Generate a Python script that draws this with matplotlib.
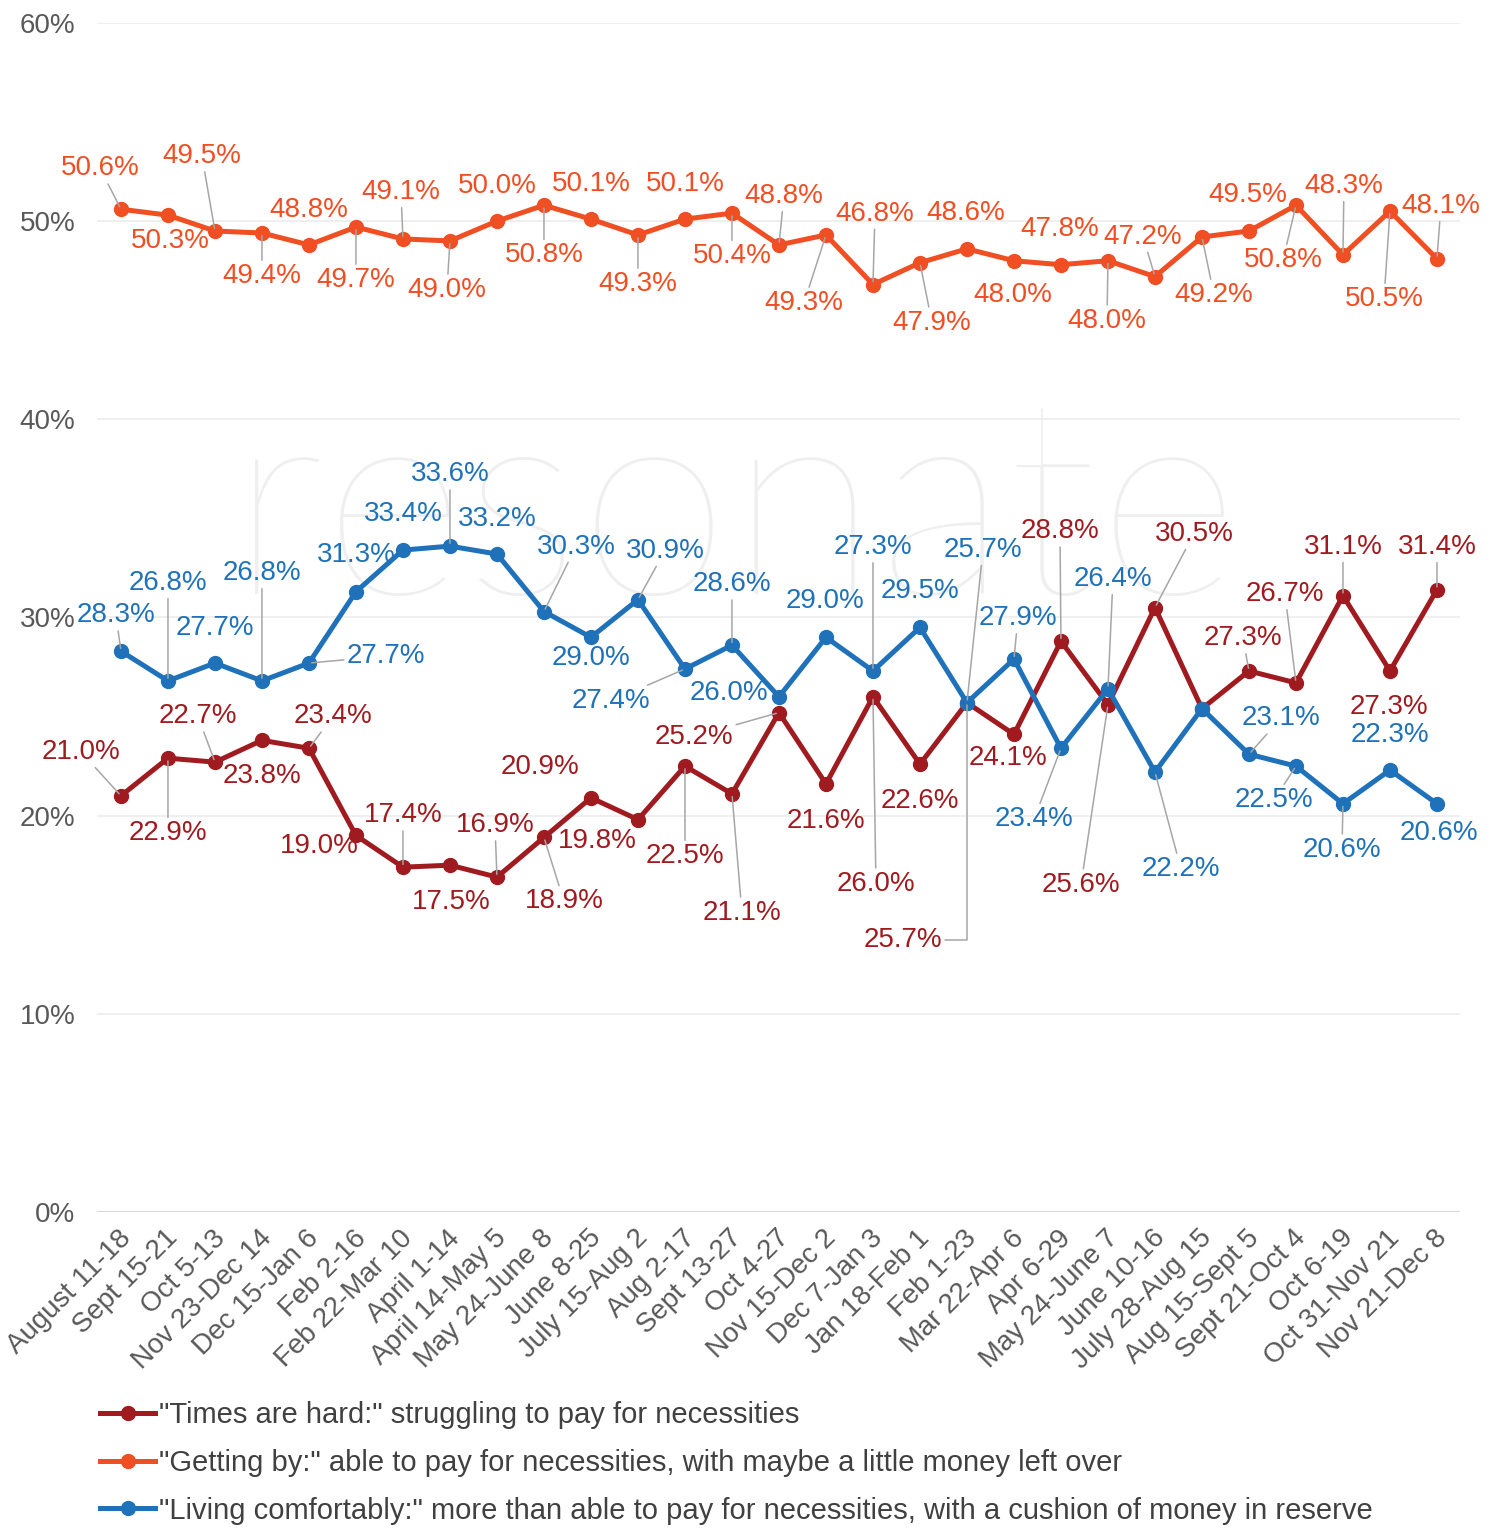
import matplotlib.pyplot as plt
from matplotlib.lines import Line2D
from matplotlib.transforms import ScaledTranslation

plt.rcParams['font.family'] = ['Liberation Sans', 'DejaVu Sans']

periods = ["August 11-18", "Sept 15-21", "Oct 5-13", "Nov 23-Dec 14", "Dec 15-Jan 6",
           "Feb 2-16", "Feb 22-Mar 10", "April 1-14", "April 14-May 5", "May 24-June 8",
           "June 8-25", "July 15-Aug 2", "Aug 2-17", "Sept 13-27", "Oct 4-27",
           "Nov 15-Dec 2", "Dec 7-Jan 3", "Jan 18-Feb 1", "Feb 1-23", "Mar 22-Apr 6",
           "Apr 6-29", "May 24-June 7", "June 10-16", "July 28-Aug 15", "Aug 15-Sept 5",
           "Sept 21-Oct 4", "Oct 6-19", "Oct 31-Nov 21", "Nov 21-Dec 8"]

times_hard = [21.0, 22.9, 22.7, 23.8, 23.4, 19.0, 17.4, 17.5, 16.9, 18.9,
              20.9, 19.8, 22.5, 21.1, 25.2, 21.6, 26.0, 22.6, 25.7, 24.1,
              28.8, 25.6, 30.5, 25.4, 27.3, 26.7, 31.1, 27.3, 31.4]
getting_by = [50.6, 50.3, 49.5, 49.4, 48.8, 49.7, 49.1, 49.0, 50.0, 50.8,
              50.1, 49.3, 50.1, 50.4, 48.8, 49.3, 46.8, 47.9, 48.6, 48.0,
              47.8, 48.0, 47.2, 49.2, 49.5, 50.8, 48.3, 50.5, 48.1]
comfortable = [28.3, 26.8, 27.7, 26.8, 27.7, 31.3, 33.4, 33.6, 33.2, 30.3,
               29.0, 30.9, 27.4, 28.6, 26.0, 29.0, 27.3, 29.5, 25.7, 27.9,
               23.4, 26.4, 22.2, 25.4, 23.1, 22.5, 20.6, 22.3, 20.6]

series_names = ['"Times are hard:" struggling to pay for necessities',
                '"Getting by:" able to pay for necessities, with maybe a little money left over',
                '"Living comfortably:" more than able to pay for necessities, with a cushion of money in reserve']

RED = '#A01B20'
ORANGE = '#F04E23'
BLUE = '#1F72B9'

# label placement: (dx, dy) offset in pixels from the point, leader line flag
hard_lbl = [(-40, 44, 1), (0, -75, 1), (-17, 46, 1), (0, -36, 0), (24, 32, 1),
            (-37, -11, 0), (0, 52, 1), (1, -37, 0), (-2, 52, 1), (20, -64, 1),
            (-51, 31, 0), (-41, -21, 0), (0, -90, 1), (10, -119, 1), (-85, -24, 1),
            (0, -37, 0), (3, -187, 1), (0, -37, 0), (-64, -237, 2), (-6, -24, 0),
            (-1, 110, 1), (-27, -180, 1), (39, 74, 1), None, (-6, 33, 1),
            (-11, 89, 1), (0, 49, 1), (-1, -36, 0), (0, 43, 1)]
getby_lbl = [(-21, 41, 1), (2, -26, 0), (-13, 75, 1), (0, -43, 1), (0, 35, 0),
             (0, -53, 1), (-2, 47, 1), (-3, -49, 1), (0, 35, 0), (0, -50, 1),
             (0, 35, 0), (0, -49, 1), (0, 35, 0), (0, -43, 1), (5, 49, 1),
             (-22, -68, 1), (2, 71, 1), (12, -60, 1), (-1, 36, 0), (-1, -34, 0),
             (-1, 36, 0), (-1, -60, 1), (-12, 40, 1), (12, -58, 1), (-1, 36, 0),
             (-13, -55, 1), (1, 69, 1), (-6, -88, 1), (4, 53, 1)]
comf_lbl = [(-5, 36, 1), (0, 98, 1), (0, 35, 0), (0, 108, 1), (77, 7, 1),
            (0, 37, 0), (0, 36, 0), (0, 72, 1), (0, 35, 0), (32, 65, 1),
            (0, -21, 0), (27, 49, 1), (-74, -32, 1), (0, 61, 1), (-50, 4, 0),
            (-1, 36, 0), (0, 124, 1), (0, 36, 0), (16, 153, 1), (4, 41, 1),
            (-27, -71, 1), (5, 110, 1), (26, -97, 1), None, (32, 36, 1),
            (-22, -34, 1), (-1, -46, 1), (0, 35, 0), (2, -29, 0)]

fig = plt.figure(figsize=(14.97, 15.28), dpi=100)
ax = fig.add_axes([0.0651, 0.2068, 0.9105, 0.7782])

x = list(range(len(periods)))

# faint watermark
ax.text(13.06, 31.2, 'resonate', fontsize=197, color='#efefef', family=['Lato', 'DejaVu Sans'],
        fontweight='light', ha='center', va='baseline', zorder=0)

for vals, color, name in [(times_hard, RED, series_names[0]),
                          (getting_by, ORANGE, series_names[1]),
                          (comfortable, BLUE, series_names[2])]:
    ax.plot(x, vals, color=color, lw=3.6, marker='o', ms=10, zorder=3,
            solid_joinstyle='round', label=name)

for vals, color, lbls in [(times_hard, RED, hard_lbl),
                          (getting_by, ORANGE, getby_lbl),
                          (comfortable, BLUE, comf_lbl)]:
    for i, v in enumerate(vals):
        if lbls[i] is None:
            continue
        dx, dy, leader = lbls[i]
        arrow = None
        if leader == 1:
            arrow = dict(arrowstyle='-', color='#a6a6a6', lw=1.1, shrinkA=0, shrinkB=2)
        elif leader == 2:
            arrow = dict(arrowstyle='-', color='#a6a6a6', lw=1.1, shrinkA=0, shrinkB=2,
                         relpos=(1, 0.5), connectionstyle='angle,angleA=0,angleB=90,rad=0')
        ax.annotate(f"{v:.1f}%", (i, v), xytext=(dx, dy), textcoords='offset pixels',
                    ha='center', va='center', fontsize=20, color=color,
                    arrowprops=arrow, zorder=5)

ax.set_xlim(-0.5, 28.5)
ax.set_ylim(0, 60)
ax.set_yticks(range(0, 61, 10))
ax.set_yticklabels([f"{t}%" for t in range(0, 61, 10)], fontsize=20, color='#595959')
ax.set_xticks(x)
ax.set_xticklabels(periods, rotation=45, ha='right', va='center', rotation_mode='anchor',
                   fontsize=20, color='#595959')
ax.tick_params(axis='both', length=0)
ax.tick_params(axis='y', pad=16)
ax.tick_params(axis='x', pad=16)
shift = ScaledTranslation(6 / 100, 0, fig.dpi_scale_trans)
for lab in ax.get_xticklabels():
    lab.set_transform(lab.get_transform() + shift)
ax.yaxis.grid(True, color='#ececec', lw=1.2)
ax.set_axisbelow(True)
for s in ax.spines.values():
    s.set_visible(False)
ax.axhline(0, color='#d9d9d9', lw=1.6, zorder=1)

handles = [Line2D([0], [0], color=c, lw=3.6, marker='o', ms=10) for c in (RED, ORANGE, BLUE)]
fig.legend(handles, series_names, loc='upper left', bbox_to_anchor=(0.0668, 0.0831),
           frameon=False, fontsize=21, handlelength=1.9, handletextpad=0.12,
           labelspacing=0.68, borderpad=0, borderaxespad=0, labelcolor='#404040')

fig.savefig('out.png', dpi=100)
